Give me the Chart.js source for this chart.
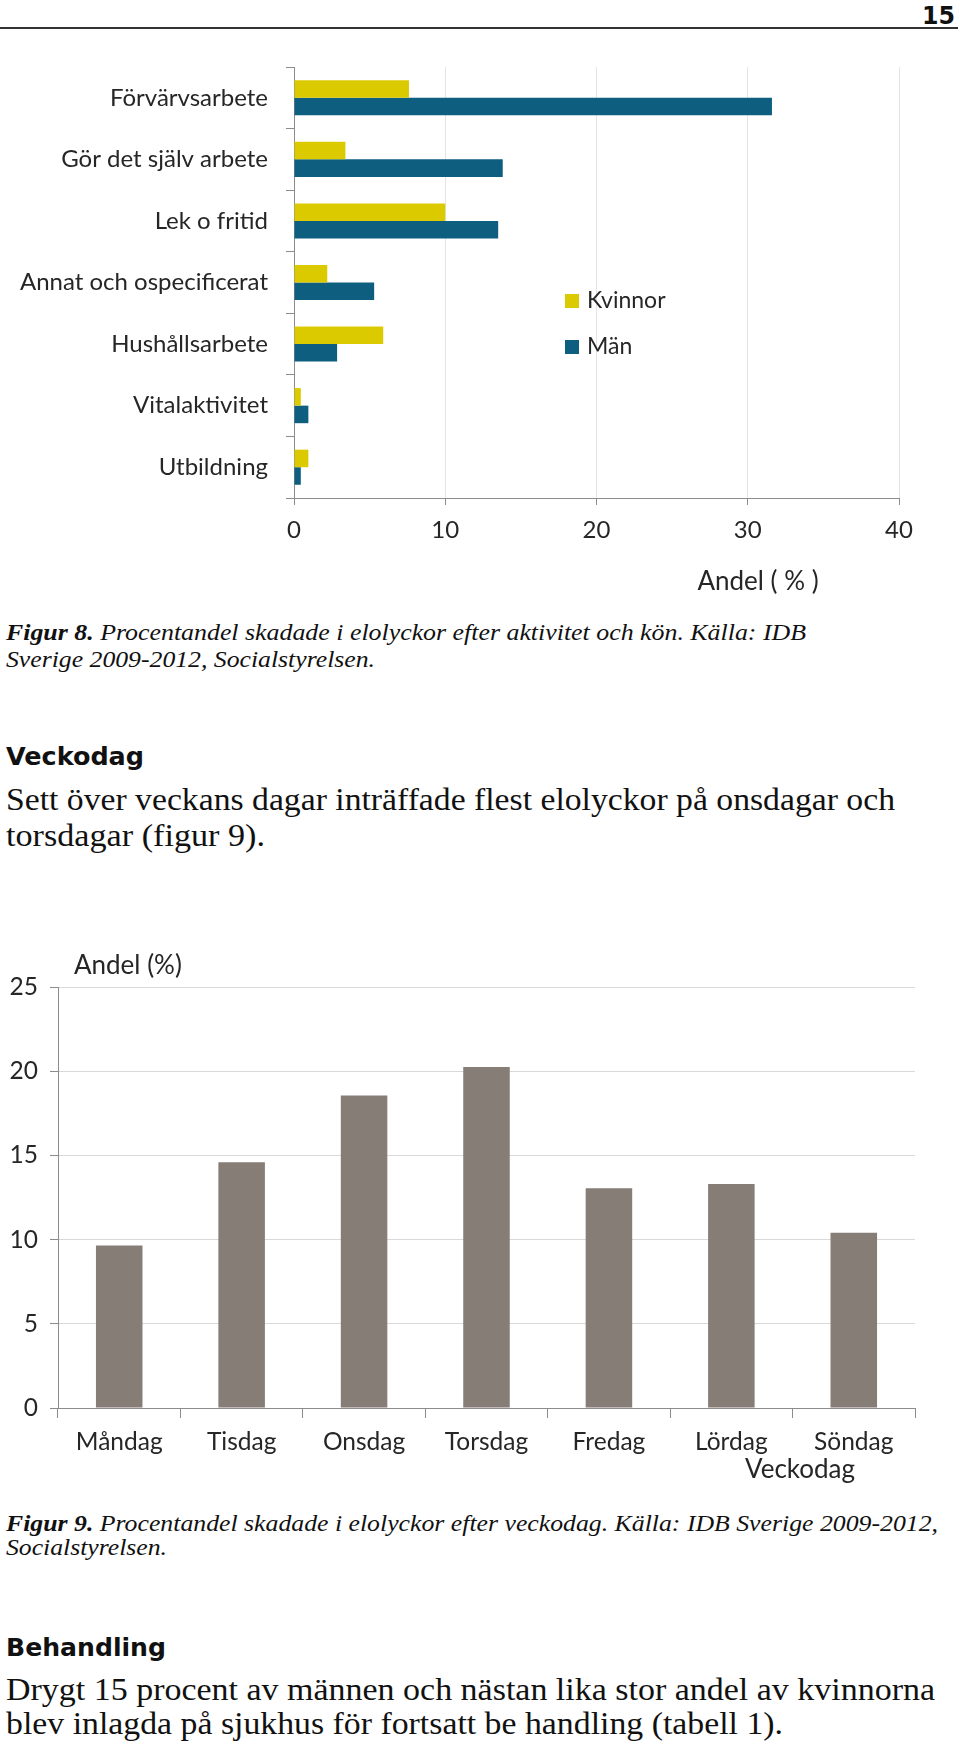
<!DOCTYPE html>
<html lang="sv">
<head>
  <meta charset="UTF-8">
  <title>Elolyckor - aktivitet och veckodag</title>
  <style>
    html, body { margin: 0; padding: 0; background: #fff; }
    body { position: relative; width: 960px; height: 1747px; overflow: hidden; }
    .line { position: absolute; left: 6px; white-space: nowrap; line-height: 1; color: #111; transform-origin: 0 0; }
    .serif { font-family: "Liberation Serif", "DejaVu Serif", serif; }
    .ital { font-style: italic; }
    .sans { font-family: "DejaVu Sans", sans-serif; font-weight: bold; }
    .rule { position: absolute; left: 0; top: 27px; width: 958px; height: 2px; background: #333; }
    canvas { position: absolute; left: 0; }
  </style>
</head>
<body>
  <div class="rule"></div>
  <canvas id="activityChart" width="960" height="560" style="top:40px;width:960px;height:560px"></canvas>
  <canvas id="weekdayChart" width="960" height="560" style="top:930px;width:960px;height:560px"></canvas>

<script src="https://cdn.jsdelivr.net/npm/chart.js/dist/chart.umd.min.js"></script>
<script>
  // Figur 8 - andel skadade per aktivitet och kön
  const activities = ['Förvärvsarbete', 'Gör det själv arbete', 'Lek o fritid', 'Annat och ospecificerat', 'Hushållsarbete', 'Vitalaktivitet', 'Utbildning'];
  const kvinnor = [7.6, 3.4, 10.0, 2.2, 5.9, 0.45, 0.95];
  const man = [31.6, 13.8, 13.5, 5.3, 2.85, 0.95, 0.45];
  const activityTicks = [0, 10, 20, 30, 40];

  // Figur 9 - andel skadade per veckodag
  const weekdays = ['Måndag', 'Tisdag', 'Onsdag', 'Torsdag', 'Fredag', 'Lördag', 'Söndag'];
  const andel = [9.65, 14.6, 18.55, 20.25, 13.05, 13.3, 10.4];
  const weekdayTicks = [0, 5, 10, 15, 20, 25];

  const chartFont = 'Lato, "Open Sans", sans-serif';
  const labelColor = '#262626';
  const axisGrey = '#8c8c8c';

  // page text, one div per printed line: [html, classes, size, baseline, width, align]
  const pageLines = [
    ['15', 'sans', 24, 24, 33, 'right'],
    ['<b>Figur 8.</b> Procentandel skadade i elolyckor efter aktivitet och kön. Källa: IDB', 'serif ital', 23, 640, 800],
    ['Sverige 2009-2012, Socialstyrelsen.', 'serif ital', 23, 667, 369],
    ['Veckodag', 'sans', 25, 765, 138],
    ['Sett över veckans dagar inträffade flest elolyckor på onsdagar och', 'serif', 32, 810, 889],
    ['torsdagar (figur 9).', 'serif', 32, 846, 259],
    ['<b>Figur 9.</b> Procentandel skadade i elolyckor efter veckodag. Källa: IDB Sverige 2009-2012,', 'serif ital', 23, 1531, 932],
    ['Socialstyrelsen.', 'serif ital', 23, 1555, 161],
    ['Behandling', 'sans', 25, 1656.5, 160],
    ['Drygt 15 procent av männen och nästan lika stor andel av kvinnorna', 'serif', 32, 1700, 929],
    ['blev inlagda på sjukhus för fortsatt be handling (tabell 1).', 'serif', 32, 1734, 777]
  ];

  const lineEls = pageLines.map(([html, cls, size, base, w, align]) => {
    const el = document.createElement('div');
    el.className = 'line ' + cls;
    el.innerHTML = html;
    el.style.fontSize = size + 'px';
    const k = cls.indexOf('sans') >= 0 ? 0.846 : 0.8375;
    el.style.top = (base - k * size) + 'px';
    document.body.appendChild(el);
    return { el, w, align };
  });

  function fitLines() {
    lineEls.forEach(({ el, w, align }) => {
      const nat = el.getBoundingClientRect().width;
      if (align === 'right') {
        el.style.left = (955 - w) + 'px';
      }
      el.style.transform = 'scaleX(' + (w / nat).toFixed(4) + ')';
    });
  }

  // legend to the right of the bars
  const sideLegend = {
    id: 'sideLegend',
    afterDraw(chart) {
      const { ctx, chartArea } = chart;
      ctx.save();
      ctx.font = '23px ' + chartFont;
      ctx.textBaseline = 'middle';
      chart.data.datasets.forEach((ds, i) => {
        const y = chartArea.top + 234 + i * 46;
        const x = chartArea.left + 271;
        ctx.fillStyle = ds.backgroundColor;
        ctx.fillRect(x, y - 7, 14, 14);
        ctx.fillStyle = labelColor;
        ctx.fillText(ds.label, x + 22, y);
      });
      ctx.restore();
    }
  };

  const activityTitle = {
    id: 'activityTitle',
    afterDraw(chart) {
      const { ctx, chartArea } = chart;
      ctx.save();
      ctx.font = '26px ' + chartFont;
      ctx.fillStyle = labelColor;
      ctx.textAlign = 'center';
      ctx.textBaseline = 'middle';
      ctx.fillText('Andel ( % )', chartArea.left + 464, chartArea.bottom + 84);
      ctx.restore();
    }
  };

  const weekdayTitles = {
    id: 'weekdayTitles',
    afterDraw(chart) {
      const { ctx, chartArea } = chart;
      ctx.save();
      ctx.font = '26px ' + chartFont;
      ctx.fillStyle = labelColor;
      ctx.textBaseline = 'middle';
      ctx.textAlign = 'left';
      ctx.fillText('Andel (%)', chartArea.left + 16, chartArea.top - 21);
      ctx.textAlign = 'center';
      ctx.fillText('Veckodag', chartArea.right - 115, chartArea.bottom + 62);
      ctx.restore();
    }
  };

  // keep the plot box where the axis lines are, whatever the label sizes
  const noPad = s => { s.paddingTop = 0; s.paddingBottom = 0; };

  function drawCharts() {
    new Chart(document.getElementById('activityChart'), {
      type: 'bar',
      data: {
        labels: activities,
        datasets: [
          { label: 'Kvinnor', data: kvinnor, backgroundColor: '#DCCA00' },
          { label: 'Män', data: man, backgroundColor: '#0E5E80' }
        ]
      },
      options: {
        indexAxis: 'y',
        responsive: false,
        animation: false,
        categoryPercentage: 0.57,
        barPercentage: 1.0,
        layout: { padding: { top: 27, right: 61, left: 0, bottom: 0 } },
        plugins: { legend: { display: false }, tooltip: { enabled: false } },
        scales: {
          x: {
            min: 0,
            max: 40,
            afterBuildTicks: s => { s.ticks = activityTicks.map(v => ({ value: v })); },
            afterFit: s => { s.height = 102; },
            grid: { color: '#e4e4e4', tickColor: axisGrey, tickLength: 7 },
            border: { color: axisGrey },
            ticks: { font: { family: chartFont, size: 24 }, color: labelColor, padding: 11 }
          },
          y: {
            afterFit: s => { s.width = 294; noPad(s); },
            grid: { offset: true, drawOnChartArea: false, color: axisGrey, tickLength: 8 },
            border: { color: axisGrey },
            ticks: { font: { family: chartFont, size: 24 }, color: labelColor, padding: 18 }
          }
        }
      },
      plugins: [sideLegend, activityTitle]
    });

    new Chart(document.getElementById('weekdayChart'), {
      type: 'bar',
      data: {
        labels: weekdays,
        datasets: [{ label: 'Andel (%)', data: andel, backgroundColor: '#857D76' }]
      },
      options: {
        responsive: false,
        animation: false,
        categoryPercentage: 0.38,
        barPercentage: 1.0,
        layout: { padding: { top: 57, right: 45, left: 0, bottom: 0 } },
        plugins: { legend: { display: false }, tooltip: { enabled: false } },
        scales: {
          y: {
            min: 0,
            max: 25,
            afterBuildTicks: s => { s.ticks = weekdayTicks.map(v => ({ value: v })); },
            afterFit: s => { s.width = 58; noPad(s); },
            grid: { color: '#d9d9d9', tickColor: axisGrey, tickLength: 8 },
            border: { color: axisGrey },
            ticks: { font: { family: chartFont, size: 24.5 }, color: labelColor, padding: 12 }
          },
          x: {
            afterFit: s => { s.height = 82; },
            grid: { offset: true, drawOnChartArea: false, color: axisGrey, tickLength: 10 },
            border: { color: axisGrey },
            ticks: { font: { family: chartFont, size: 24.5 }, color: labelColor, padding: 9 }
          }
        }
      },
      plugins: [weekdayTitles]
    });
  }

  document.fonts.ready.then(() => {
    fitLines();
    drawCharts();
  });
</script>
</body>
</html>
